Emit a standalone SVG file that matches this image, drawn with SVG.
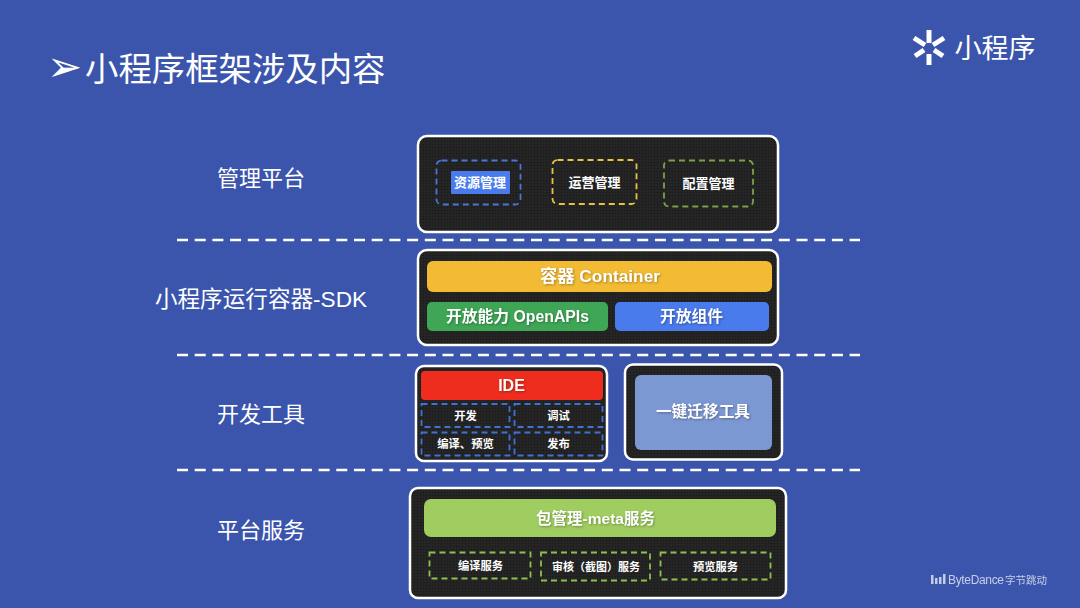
<svg xmlns="http://www.w3.org/2000/svg" width="1080" height="608" viewBox="0 0 1080 608">
<style>
text{font-family:"Liberation Sans","Noto Sans CJK SC",sans-serif;fill:#fff;text-anchor:middle}
.h{font-size:22px}
.b{font-weight:700;filter:drop-shadow(1px 1px 1px rgba(0,0,0,.3))}
.s{font-size:11.300px;font-weight:700}
.m{font-size:13px;font-weight:700}
.p{fill:url(#tex);stroke:#fff;stroke-width:2.5}
.d{fill:none;stroke-width:1.8;stroke-dasharray:6 4}
.sep{stroke:#fff;stroke-width:2.5;stroke-dasharray:11 6.7;fill:none}
</style>
<defs>
<pattern id="tex" width="3" height="3" patternUnits="userSpaceOnUse"><rect width="3" height="3" fill="#232323"/><rect width="1" height="1" fill="#191919"/><rect x="1.5" y="1.5" width="1" height="1" fill="#2b2b2b"/></pattern>
</defs>
<rect width="1080" height="608" fill="#3b55ac"/>
<g id="title"><text x="47" y="81" style="font-family:'DejaVu Sans',sans-serif;text-anchor:start;font-size:42px">➢</text>
<text x="85" y="81" style="text-anchor:start;font-size:33.400px">小程序框架涉及内容</text></g>
<g id="logo">
<g stroke="#fff" stroke-width="5" fill="none"><path d="M929 30V43"/><path d="M929 54V65"/><path d="M914 38L925 45"/><path d="M944 38L933 45"/><path d="M915 56L924 50"/><path d="M943 56L934 50"/></g>
<text x="995" y="58" style="font-size:27px;font-family:'Noto Sans CJK SC',sans-serif;font-weight:400">小程序</text>
</g>
<g id="watermark" opacity=".7">
<g fill="#fff"><rect x="931" y="575" width="2.500" height="9"/><rect x="935" y="578" width="2.500" height="6"/><rect x="939" y="577" width="2.500" height="7"/><rect x="943" y="574" width="2.500" height="10"/></g>
<text x="948" y="584" style="font-size:12px;text-anchor:start" textLength="56">ByteDance</text>
<text x="1005" y="584" style="font-size:10.500px;text-anchor:start">字节跳动</text>
</g>
<g id="labels">
<text class="h" x="261" y="186">管理平台</text>
<text class="h" x="261" y="307" style="font-size:22.600px">小程序运行容器-SDK</text>
<text class="h" x="261" y="422">开发工具</text>
<text class="h" x="261" y="538">平台服务</text>
</g>
<g id="connectors">
<path class="sep" d="M177 240H860"/><path class="sep" d="M177 355H860"/><path class="sep" d="M177 470H860"/>
</g>
<g id="mgmt">
<rect class="p" x="418" y="136" width="360" height="96" rx="9"/>
<rect class="d" x="436.500" y="160.500" width="84" height="44" rx="5" stroke="#4a76d8"/>
<rect x="451" y="171" width="59" height="23" rx="1" fill="#4a7bec"/>
<text class="m" x="480" y="187">资源管理</text>
<rect class="d" x="552.500" y="160" width="84" height="44" rx="5" stroke="#e7c13f"/>
<text class="m" x="594.500" y="187">运营管理</text>
<rect class="d" x="664" y="160.500" width="89" height="46" rx="5" stroke="#7fa04a"/>
<text class="m" x="708.500" y="188">配置管理</text>
</g>
<g id="sdk">
<rect class="p" x="418" y="250" width="360" height="95" rx="9"/>
<rect x="427" y="261" width="345" height="31" rx="6" fill="#f2bb33"/>
<text class="b" x="600" y="282" style="font-size:17.300px">容器 Container</text>
<rect x="427" y="302" width="181" height="29" rx="5" fill="#3fa656"/>
<text class="b" x="517.500" y="322" style="font-size:15.800px">开放能力 OpenAPIs</text>
<rect x="615" y="302" width="154" height="29" rx="5" fill="#4a7bec"/>
<text class="b" x="691.500" y="322" style="font-size:15.800px">开放组件</text>
</g>
<g id="ide">
<rect class="p" x="416" y="366" width="191" height="95" rx="8"/>
<rect x="421" y="371" width="182" height="29" rx="4" fill="#ee2d1e"/>
<text class="b" x="511.500" y="391" style="font-size:16px">IDE</text>
<rect class="d" x="421.500" y="404" width="88" height="23" stroke="#3f72d6"/>
<text class="s" x="465.500" y="420">开发</text>
<rect class="d" x="514.500" y="404" width="88" height="23" stroke="#3f72d6"/>
<text class="s" x="558.500" y="420">调试</text>
<rect class="d" x="421.500" y="432.500" width="88" height="23" stroke="#3f72d6"/>
<text class="s" x="465.500" y="448">编译、预览</text>
<rect class="d" x="514.500" y="432.500" width="88" height="23" stroke="#3f72d6"/>
<text class="s" x="558.500" y="448">发布</text>
</g>
<g id="migrate">
<rect class="p" x="625" y="364.500" width="157" height="95" rx="8"/>
<rect x="635" y="375" width="137" height="75" rx="6" fill="#7c98d2"/>
<text class="b" x="703" y="417" style="font-size:15.700px">一键迁移工具</text>
</g>
<g id="platform">
<rect class="p" x="410" y="488" width="376" height="110" rx="8"/>
<rect x="424" y="499" width="352" height="38" rx="7" fill="#a0cd60"/>
<text class="b" x="595.500" y="524" style="font-size:15.500px">包管理-meta服务</text>
<rect class="d" x="429.500" y="552.500" width="101" height="26" stroke="#8cc152"/>
<text class="s" x="480.500" y="570">编译服务</text>
<rect class="d" x="541" y="552.500" width="109" height="28" stroke="#8cc152"/>
<text class="s" x="596" y="571" style="font-size:11px">审核（截图）服务</text>
<rect class="d" x="660.500" y="552.500" width="110" height="27" stroke="#8cc152"/>
<text class="s" x="715.500" y="571">预览服务</text>
</g>
</svg>
